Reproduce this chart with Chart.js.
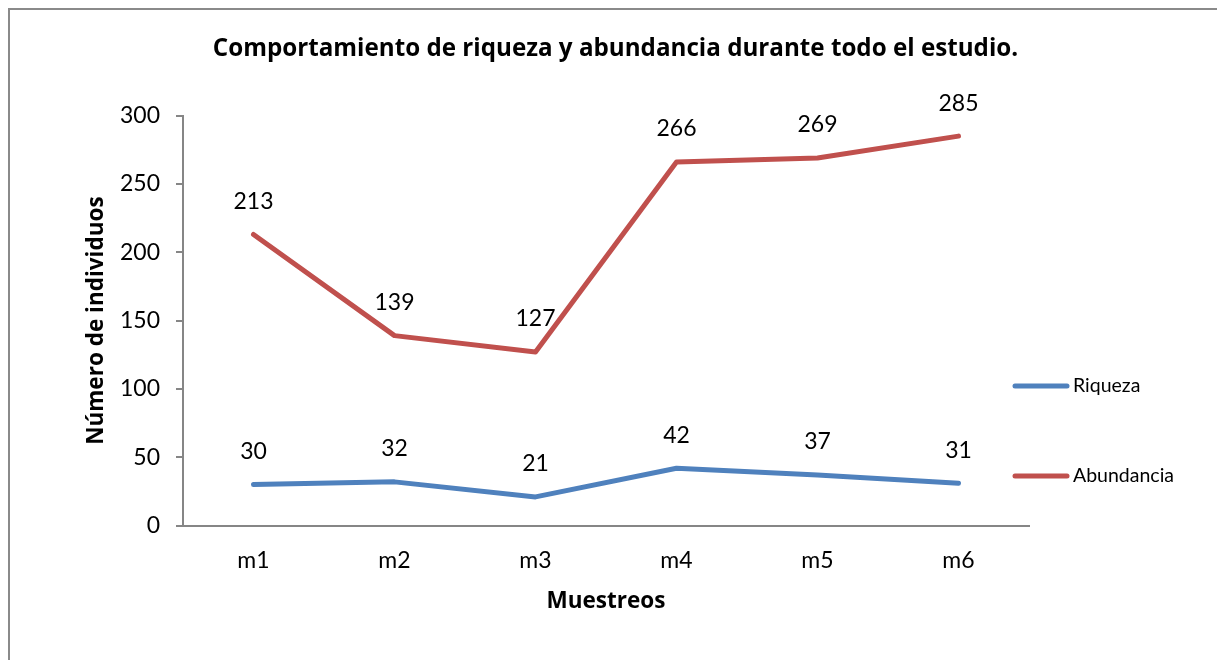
<!DOCTYPE html>
<html><head><meta charset="utf-8">
<script src="https://cdn.jsdelivr.net/npm/chart.js@4"></script>
<style>
html,body{margin:0;padding:0;background:#fff;overflow:hidden}
#wrap{position:relative;width:1217px;height:660px}
#frame{position:absolute;left:8px;top:8px;width:1300px;height:800px;border:2px solid #8a8a8a;box-sizing:border-box;pointer-events:none}
canvas{display:block}
</style></head><body>
<div id="wrap"><canvas id="c" width="1217" height="660"></canvas><div id="frame"></div></div>
<script>
const categories = ['m1','m2','m3','m4','m5','m6'];
const riqueza = [30, 32, 21, 42, 37, 31];
const abundancia = [213, 139, 127, 266, 269, 285];
const yTickValues = [0, 50, 100, 150, 200, 250, 300];
const seriesNames = ['Riqueza', 'Abundancia'];
const seriesColors = ['#4F81BD', '#C0504D'];
const chartTitle = 'Comportamiento de riqueza y abundancia durante todo el estudio.';
const yTitle = 'Número de individuos';
const xTitle = 'Muestreos';

const FONT = 'Lato';
const BOLD_FONT = '"Open Sans"';
const AXIS_GRAY = '#868686';

const valueLabels = {
  id: 'valueLabels',
  afterDatasetsDraw(chart) {
    const ctx = chart.ctx;
    ctx.save();
    ctx.font = '23px ' + FONT;
    ctx.fillStyle = '#000';
    ctx.textAlign = 'center';
    ctx.textBaseline = 'middle';
    chart.data.datasets.forEach((ds, i) => {
      chart.getDatasetMeta(i).data.forEach((pt, j) => {
        ctx.fillText(String(ds.data[j]), pt.x, pt.y - 33);
      });
    });
    ctx.restore();
  }
};

const sideLegend = {
  id: 'sideLegend',
  afterDraw(chart) {
    const ctx = chart.ctx;
    const ys = [386, 476];
    ctx.save();
    chart.data.datasets.forEach((ds, i) => {
      const y = ys[i];
      ctx.strokeStyle = ds.borderColor;
      ctx.lineWidth = 5;
      ctx.lineCap = 'round';
      ctx.beginPath();
      ctx.moveTo(1015, y);
      ctx.lineTo(1067, y);
      ctx.stroke();
      ctx.fillStyle = '#000';
      ctx.font = '19.5px ' + FONT;
      ctx.textAlign = 'left';
      ctx.textBaseline = 'middle';
      ctx.fillText(ds.label, 1073, y);
    });
    ctx.restore();
  }
};

new Chart(document.getElementById('c'), {
  type: 'line',
  data: {
    labels: categories,
    datasets: [
      { label: seriesNames[0], data: riqueza, borderColor: seriesColors[0], backgroundColor: seriesColors[0],
        borderWidth: 5, pointRadius: 0, borderCapStyle: 'round', borderJoinStyle: 'round', tension: 0 },
      { label: seriesNames[1], data: abundancia, borderColor: seriesColors[1], backgroundColor: seriesColors[1],
        borderWidth: 5, pointRadius: 0, borderCapStyle: 'round', borderJoinStyle: 'round', tension: 0 }
    ]
  },
  options: {
    responsive: false,
    animation: false,
    devicePixelRatio: 1,
    layout: { padding: { left: 14, right: 0, top: 0, bottom: 44.5 } },
    plugins: {
      legend: { display: false },
      tooltip: { enabled: false },
      title: {
        display: true, text: chartTitle, color: '#000',
        font: { family: BOLD_FONT, size: 24.2, weight: 'bold', lineHeight: 1.2 },
        padding: { top: 34.5, bottom: 52.06 }
      }
    },
    scales: {
      x: {
        offset: true,
        grid: { display: false, drawTicks: false },
        border: { display: true, color: AXIS_GRAY, width: 2 },
        ticks: { color: '#000', font: { family: FONT, size: 23 }, padding: 21, maxRotation: 0 },
        title: { display: true, text: xTitle, color: '#000', font: { family: BOLD_FONT, size: 22.5, weight: 'bold', lineHeight: 1.2 }, padding: { top: 0, bottom: 0 } },
        afterFit(scale) { scale.height = 89.9; }
      },
      y: {
        min: 0, max: 300,
        afterBuildTicks(scale) { scale.ticks = yTickValues.map(v => ({ value: v })); },
        grid: { drawOnChartArea: false, drawTicks: true, tickLength: 7, color: AXIS_GRAY, lineWidth: 2 },
        border: { display: true, color: AXIS_GRAY, width: 2 },
        ticks: { color: '#000', font: { family: FONT, size: 23 }, padding: 16 },
        title: { display: true, text: yTitle, color: '#000', font: { family: BOLD_FONT, size: 22.5, weight: 'bold', lineHeight: 1.2 }, padding: { top: 69.5, bottom: 0 } },
        afterFit(scale) { scale.width = 169; }
      },
      legendSpace: {
        type: 'linear', position: 'right', display: true,
        grid: { display: false, drawTicks: false },
        border: { display: false },
        ticks: { display: false },
        afterFit(scale) { scale.width = 188; }
      }
    }
  },
  plugins: [valueLabels, sideLegend]
});
</script>
</body></html>
